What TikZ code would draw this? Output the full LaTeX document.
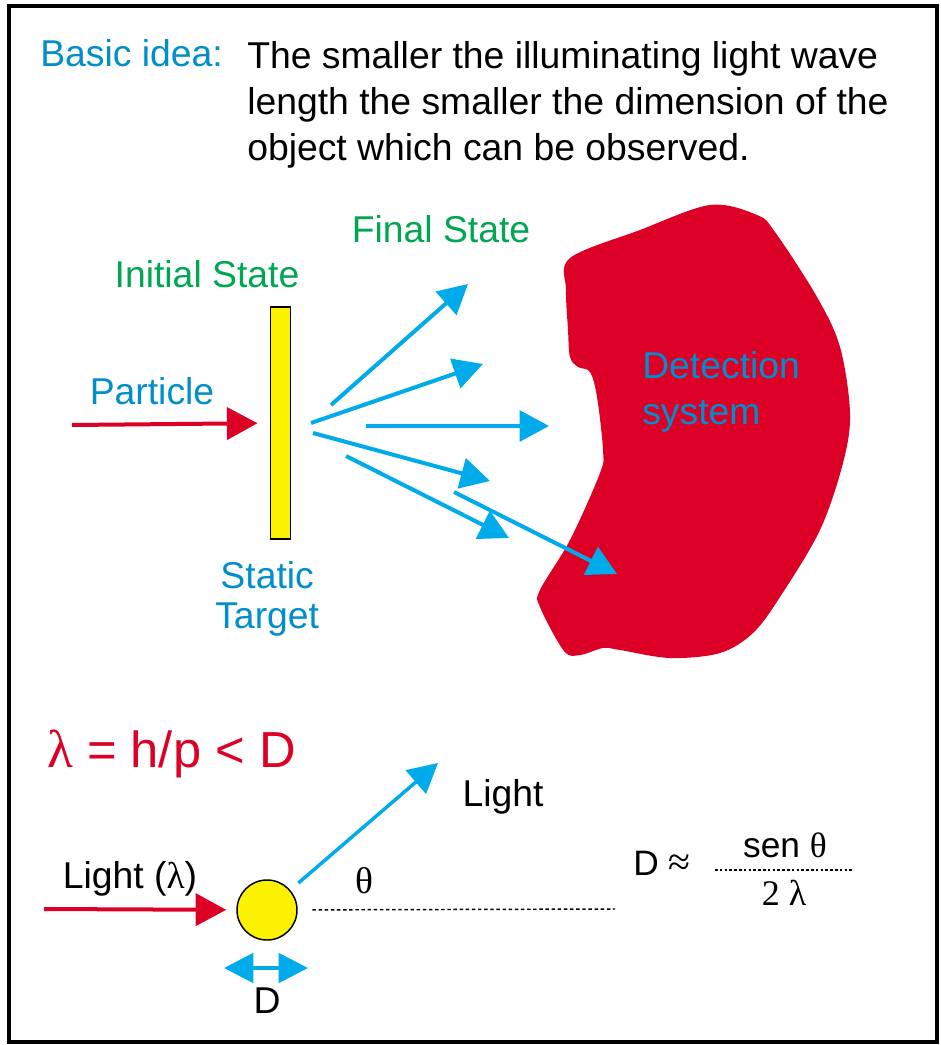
\documentclass[tikz,border=0pt]{standalone}
\usepackage{fontspec}
\setmainfont{Liberation Sans}
\newfontfamily\grk{Liberation Serif}
\usetikzlibrary{arrows.meta,positioning,calc}
\definecolor{exred}{RGB}{221,0,38}
\definecolor{exarrow}{RGB}{0,171,235}
\definecolor{exlabel}{RGB}{0,142,204}
\definecolor{exgreen}{RGB}{0,166,81}
\definecolor{exyellow}{RGB}{252,242,0}
\tikzset{
  txt/.style={font=\fontsize{28}{34.5}\selectfont, inner sep=0pt, text=black},
  bluetxt/.style={txt, text=exlabel},
  greentxt/.style={txt, text=exgreen},
  smalltxt/.style={font=\fontsize{26.5}{30}\selectfont, inner sep=0pt},
  redarr/.style={-{Triangle[length=23pt,width=24pt]}, draw=exred, line width=3pt},
  bluearr/.style={-{Triangle[length=22pt,width=23pt]}, draw=exarrow, line width=3pt},
  dimarr/.style={{Triangle[length=22pt,width=22pt]}-{Triangle[length=22pt,width=22pt]},
    draw=exarrow, line width=3pt},
  dotln/.style={draw=black, line width=1.1pt, dash pattern=on 2.6pt off 2pt},
  bar/.style={draw=black, line width=0.9pt, fill=exyellow, inner sep=0pt,
    minimum width=14.5pt, minimum height=174pt},
  ball/.style={circle, draw=black, line width=1.1pt, fill=exyellow, inner sep=0pt,
    minimum size=45pt},
  frame/.style={draw=black, line width=3pt}
}
\begin{document}
\begin{tikzpicture}[x=0.75pt, y=-0.75pt]
  \useasboundingbox (0,0) rectangle (940,1045);
  \draw[frame] (9,6) rectangle (937,1042);

  % heading
  \node[bluetxt, anchor=base west] (basic) at (40,67) {Basic idea:};
  \node[txt, anchor=north west, align=left] (idea) at (247,41)
    {The smaller the illuminating light wave\\
     length the smaller the dimension of the\\
     object which can be observed.};

  % detector
  \fill[exred] plot[smooth cycle, tension=0.55] coordinates {
    (570,258) (640,230) (710,205) (757,215) (775,232) (817,297) (840,347)
    (850,413) (843,463) (820,530) (780,597) (753,633) (720,653) (670,658)
    (620,650) (603,648) (580,655) (564,651) (540,607) (540,590) (570,540)
    (600,473) (603,450) (597,397) (590,372) (578,367) (570,357) (568,330)
    (566,290)};
  \node[bluetxt, anchor=north west, align=left] (det) at (642,351)
    {Detection\\system};

  % scattering on a fixed target
  \node[greentxt, anchor=base] (final) at (441,242) {Final State};
  \node[greentxt, anchor=base] (initial) at (207,287) {Initial State};
  \node[bar] (target) at (280.5,423) {};
  \node[bluetxt, anchor=base] (particle) at (152,404) {Particle};
  \node[bluetxt, align=center, font=\fontsize{28}{30}\selectfont,
    below=16pt of target, xshift=-10pt] (static) {Static\\Target};
  \coordinate (pin) at (72,425);
  \draw[redarr, shorten >=9.5pt] (pin) -- (target);

  \coordinate (s1) at (331,405); \coordinate (e1) at (468,284);
  \coordinate (s2) at (311,423); \coordinate (e2) at (483,364);
  \coordinate (s3) at (366,426); \coordinate (e3) at (549,426);
  \coordinate (s4) at (313,433); \coordinate (e4) at (490,481);
  \coordinate (s5) at (346,456); \coordinate (e5) at (509,538);
  \coordinate (s6) at (454,492); \coordinate (e6) at (617,574);
  \draw[bluearr] (s1) -- (e1);
  \draw[bluearr] (s2) -- (e2);
  \draw[bluearr] (s3) -- (e3);
  \draw[bluearr] (s4) -- (e4);
  \draw[bluearr] (s5) -- (e5);
  \draw[bluearr] (s6) -- (e6);

  % resolution
  \node[txt, text=exred, font=\fontsize{38}{42}\selectfont, anchor=base west]
    (rel) at (47,767) {{\grk\fontsize{40}{42}\selectfont λ} = h/p < D};
  \node[txt, anchor=base] (lin) at (130,888) {Light ({\grk λ})};
  \node[ball] (ball) at (267,910) {};
  \coordinate (src) at (44,909);
  \draw[redarr, shorten >=7.5pt] (src) -- (ball);
  \coordinate (lout) at (438,763);
  \draw[bluearr, line width=2.6pt, shorten <=8pt] (ball) -- (lout);
  \node[txt, anchor=base] (lightout) at (503,806) {Light};
  \node[txt, font=\grk\fontsize{28}{30}\selectfont, anchor=base] (theta) at (364,893) {θ};
  \coordinate (dend) at (615,909);
  \draw[dotln, shorten <=11pt] (ball) -- (dend);
  \coordinate (dl) at (224,968); \coordinate (dr) at (308,968);
  \draw[dimarr] (dl) -- (dr);
  \node[txt, anchor=base] (dsize) at (267,1013) {D};

  % estimate
  \node[smalltxt, anchor=base west] (approx) at (633,875)
    {D {\grk\fontsize{30}{30}\selectfont ≈}};
  \node[smalltxt, anchor=base] (num) at (785,857) {sen {\grk θ}};
  \coordinate (fl) at (715,870); \coordinate (fr) at (852,870);
  \draw[dotln, line width=0.9pt, dash pattern=on 2pt off 1.6pt] (fl) -- (fr);
  \node[smalltxt, font=\grk\fontsize{27}{30}\selectfont, anchor=base] (den) at (784,905) {2 λ};
\end{tikzpicture}
\end{document}
